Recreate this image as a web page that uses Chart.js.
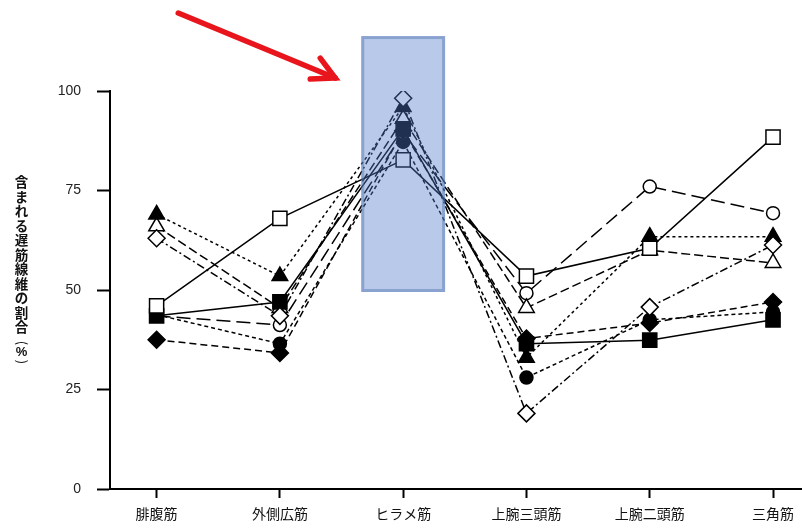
<!DOCTYPE html>
<html>
<head>
<meta charset="utf-8">
<script src="https://cdn.jsdelivr.net/npm/chart.js@4/dist/chart.umd.min.js"></script>
<style>
  html, body { margin: 0; padding: 0; background: #fff; }
  #wrap { width: 802px; height: 531px; overflow: hidden; position: relative; }
  canvas { display: block; }
</style>
</head>
<body>
<div id="wrap"><canvas id="c" width="840" height="531"></canvas></div>
<script>
// Muscles on the horizontal axis
const categories = ['腓腹筋', '外側広筋', 'ヒラメ筋', '上腕三頭筋', '上腕二頭筋', '三角筋'];

// Share of slow-twitch fibres (%) per subject, one array per marker
const openSquare    = [46.0, 68.0, 82.7, 53.5, 60.5, 88.4];
const filledTri     = [69.0, 53.5, 96.0, 33.0, 63.4, 63.4];
const openTri       = [66.0, 45.5, 93.0, 45.5, 60.0, 56.8];
const openDiamond   = [63.0, 43.5, 98.2, 19.0, 45.7, 61.3];
const openCircle    = [43.5, 41.2, 89.5, 49.2, 76.0, 69.3];
const filledCircle  = [43.8, 36.5, 87.2, 28.0, 42.5, 44.5];
const filledDiamond = [37.5, 34.2, 90.0, 37.8, 41.7, 47.0];
const filledSquare  = [43.5, 47.0, 90.5, 36.5, 37.4, 42.5];

const yTicks = [0, 25, 50, 75, 100];
const yTitle = '含まれる遅筋線維の割合';

// Highlighted muscle and the band drawn around it
const highlightIndex = 2;
const highlightHalfWidth = 0.34;
const highlightRange = [49.5, 113.8];

const toPoints = arr => arr.map((v, i) => ({ x: i, y: v }));

function series(values, style, filled, dash, radius) {
  return {
    data: toPoints(values),
    borderColor: '#000',
    borderWidth: 1.5,
    borderDash: dash,
    pointStyle: style,
    pointRadius: radius,
    pointHoverRadius: radius,
    pointBorderWidth: 1.5,
    pointBorderColor: '#000',
    pointBackgroundColor: filled ? '#000' : '#fff',
    fill: false,
    tension: 0
  };
}

const datasets = [
  series(openDiamond,   'rectRot',  false, [8, 3, 2, 3], 8.5),
  series(openSquare,    'rect',     false, [],           10),
  series(filledSquare,  'rect',     true,  [],           10),
  series(filledTri,     'triangle', true,  [3, 3],       9),
  series(openTri,       'triangle', false, [9, 4],       9),
  series(filledDiamond, 'rectRot',  true,  [7, 4],       8.5),
  series(openCircle,    'circle',   false, [14, 6],      6.5),
  series(filledCircle,  'circle',   true,  [4, 3],       6.5)
];

const overlays = {
  id: 'overlays',
  afterDatasetsDraw(chart) {
    const ctx = chart.ctx;
    const xs = chart.scales.x, ys = chart.scales.y;

    // translucent blue band over the highlighted muscle
    const x0 = xs.getPixelForValue(highlightIndex - highlightHalfWidth);
    const x1 = xs.getPixelForValue(highlightIndex + highlightHalfWidth);
    const yTop = ys.getPixelForValue(highlightRange[1]);
    const yBot = ys.getPixelForValue(highlightRange[0]);
    ctx.save();
    ctx.fillStyle = 'rgba(78,120,200,0.40)';
    ctx.fillRect(x0, yTop, x1 - x0, yBot - yTop);
    ctx.strokeStyle = 'rgba(80,115,175,0.45)';
    ctx.lineWidth = 3;
    ctx.strokeRect(x0 + 1.5, yTop + 1.5, x1 - x0 - 3, yBot - yTop - 3);
    ctx.restore();

    // red arrow pointing at the band
    const tipX = x0 - 26, tipY = yTop + 42;
    ctx.save();
    ctx.strokeStyle = '#e8161c';
    ctx.lineWidth = 5.5;
    ctx.lineCap = 'round';
    ctx.lineJoin = 'miter';
    ctx.beginPath();
    ctx.moveTo(tipX - 157, tipY - 65);
    ctx.lineTo(tipX, tipY);
    ctx.stroke();
    ctx.beginPath();
    ctx.moveTo(tipX - 15, tipY - 20);
    ctx.lineTo(tipX, tipY);
    ctx.lineTo(tipX - 25, tipY + 1);
    ctx.stroke();
    ctx.restore();

    // vertical axis title, one upright character per row
    ctx.save();
    ctx.fillStyle = '#111';
    ctx.font = 'bold 13.5px "Noto Sans CJK JP"';
    ctx.textAlign = 'center';
    ctx.textBaseline = 'middle';
    const cx = 21.5;
    let y = 182;
    for (const ch of yTitle) {
      ctx.fillText(ch, cx, y);
      y += 14.5;
    }
    const drawTurned = (ch, py) => {
      ctx.save();
      ctx.translate(cx, py);
      ctx.rotate(Math.PI / 2);
      ctx.font = '13px "Noto Sans CJK JP"';
      ctx.fillText(ch, 0, 0);
      ctx.restore();
    };
    drawTurned('(', 343);
    ctx.font = 'bold 13px "Liberation Sans", Arial, sans-serif';
    ctx.fillText('%', cx, 352.5);
    drawTurned(')', 362);
    ctx.restore();
  }
};

new Chart(document.getElementById('c'), {
  type: 'line',
  data: { datasets },
  options: {
    responsive: false,
    animation: false,
    events: [],
    layout: { padding: { top: 91, left: 0, right: 0, bottom: 0 } },
    plugins: { legend: { display: false }, tooltip: { enabled: false } },
    scales: {
      x: {
        type: 'linear',
        min: -0.378,
        max: 5.45,
        afterBuildTicks: s => { s.ticks = categories.map((_, i) => ({ value: i })); },
        afterFit: s => { s.height = 42; },
        ticks: {
          autoSkip: false,
          maxRotation: 0,
          padding: 7,
          color: '#111',
          font: { family: '"Noto Sans CJK JP"', size: 14 },
          callback: v => categories[v]
        },
        grid: { drawOnChartArea: false, tickLength: 9, tickWidth: 2, tickColor: '#000' },
        border: { color: '#000', width: 2 }
      },
      y: {
        min: 0,
        max: 100,
        afterBuildTicks: s => { s.ticks = yTicks.map(v => ({ value: v })); },
        afterFit: s => { s.width = 110; },
        ticks: {
          padding: 16,
          color: '#222',
          font: { family: '"Liberation Sans", Arial, sans-serif', size: 14 }
        },
        grid: { drawOnChartArea: false, tickLength: 13, tickWidth: 2, tickColor: '#000' },
        border: { color: '#000', width: 2 }
      }
    }
  },
  plugins: [overlays]
});
</script>
</body>
</html>
